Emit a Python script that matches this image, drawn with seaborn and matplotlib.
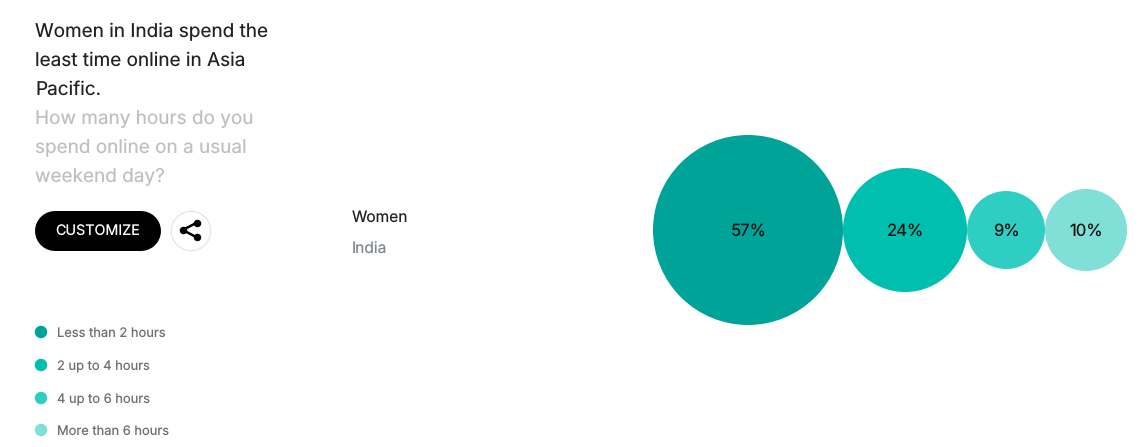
import numpy as np
import pandas as pd
import matplotlib.pyplot as plt
import seaborn as sns
from matplotlib.patches import Circle

# data
hours = ["Less than 2 hours", "2 up to 4 hours", "4 up to 6 hours", "More than 6 hours"]
shares = [57, 24.3, 9.6, 10.6]  # estimated from circle area
share_labels = ["57%", "24%", "9%", "10%"]
colors = ["#00A398", "#00BFAE", "#2ECFC2", "#80DFD6"]
title_lines = ["Women in India spend the", "least time online in Asia", "Pacific."]
question_lines = ["How many hours do you", "spend online on a usual", "weekend day?"]
filter_labels = ["Women", "India"]

FONT = "Inter"
DPI = 100
sns.set_style("white")
plt.rcParams["font.family"] = [FONT, "DejaVu Sans"]
plt.rcParams["text.hinting"] = "none"
plt.rcParams["text.hinting_factor"] = 1

fig = plt.figure(figsize=(11.4, 4.47), dpi=DPI)
ax = fig.add_axes([0, 0, 1, 1])
ax.set_xlim(0, 1140)
ax.set_ylim(447, 0)
ax.axis("off")

# circles sit side by side, area follows the share
k = 190 / np.sqrt(shares[0])
diam = k * np.sqrt(shares)
centers = 653 + np.cumsum(diam) - diam / 2
df = pd.DataFrame({"hours": hours, "x": centers, "y": 230.0})
sizes = {h: (d * 72 / DPI) ** 2 for h, d in zip(hours, diam)}
palette = dict(zip(hours, colors))
sns.scatterplot(data=df, x="x", y="y", hue="hours", size="hours", sizes=sizes,
                palette=palette, linewidth=0, legend=False, ax=ax, zorder=2)
for x, lab in zip(centers, share_labels):
    ax.text(x + 0.5, 236, lab, ha="center", va="baseline", fontsize=12, color="#111111", zorder=3)

# legend
leg = pd.DataFrame({"hours": hours, "x": 41.0, "y": [332, 365, 398, 430]})
sns.scatterplot(data=leg, x="x", y="y", hue="hours", palette=palette, s=(12.5 * 72 / DPI) ** 2,
                linewidth=0, legend=False, ax=ax)
for y, h in zip(leg["y"], hours):
    ax.text(57, y + 5, h, ha="left", va="baseline", fontsize=9.3, color="#6b7076")

# heading
for i, t in enumerate(title_lines):
    ax.text(35, 37 + 29 * i, t, ha="left", va="baseline", fontsize=13.65, color="#202124")
for i, t in enumerate(question_lines):
    ax.text(35, 124 + 29 * i, t, ha="left", va="baseline", fontsize=13.65, color="#bfbfbf")

# button
ax.plot([55, 141], [231, 231], color="black", lw=40 * 72 / DPI, solid_capstyle="round")
ax.text(98, 236, "CUSTOMIZE", ha="center", va="baseline", fontsize=10.3, color="white")

# share icon
ax.add_patch(Circle((191, 231), 19.7, facecolor="white", edgecolor="#e2e2e2", lw=0.8))
ax.plot([196.7, 182.7, 196.7], [222.7, 230, 237.3], color="black", lw=1.8, solid_capstyle="round")
ax.scatter([196.7, 182.7, 196.7], [222.7, 230, 237.3], s=(7.5 * 72 / DPI) ** 2, color="black", linewidth=0, zorder=3)

# filter labels
ax.text(352, 222, filter_labels[0], ha="left", va="baseline", fontsize=11.2, color="#202124")
ax.text(352, 253.5, filter_labels[1], ha="left", va="baseline", fontsize=11.2, color="#80868b")

fig.savefig("out.png", dpi=DPI, facecolor="white")
